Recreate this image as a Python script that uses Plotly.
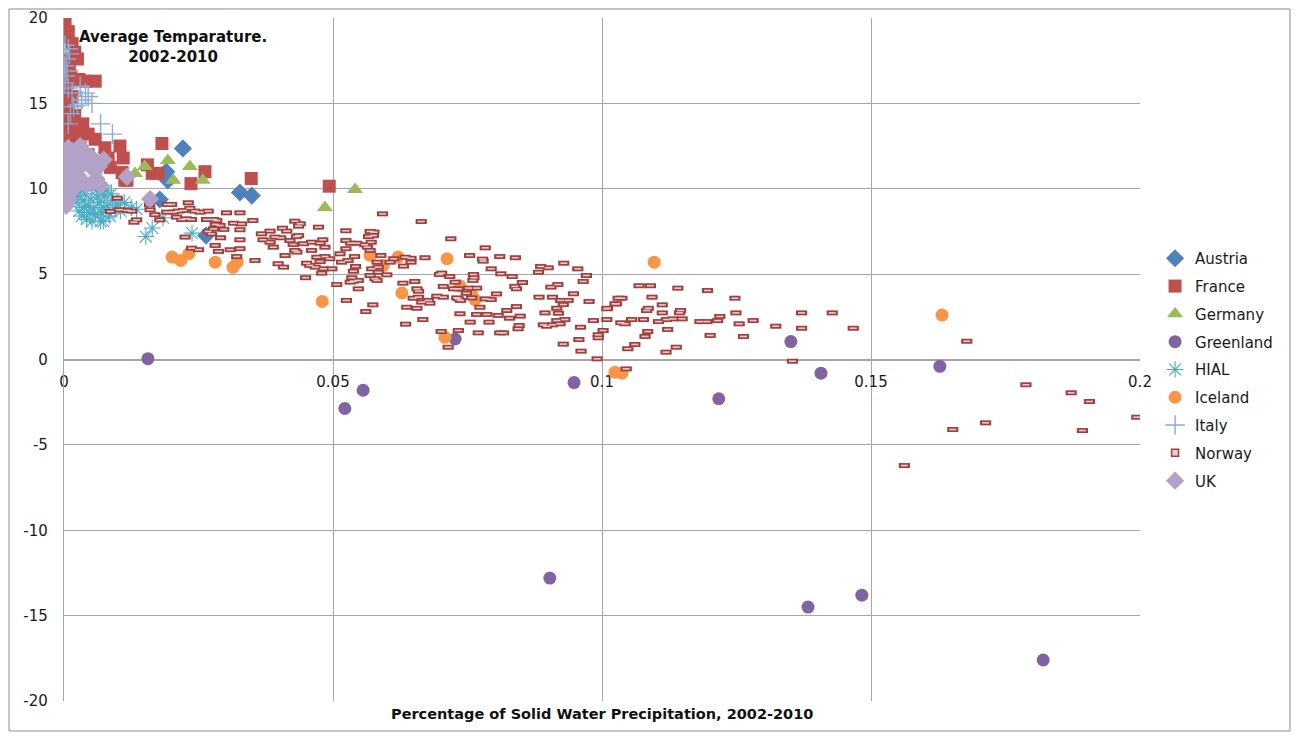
import plotly.graph_objects as go

# ---------------- data ----------------
austria_x = [0.0221, 0.0193, 0.0178, 0.0327, 0.0349, 0.0264, 0.0190]
austria_y = [12.36, 10.49, 9.37, 9.78, 9.60, 7.26, 11.0]

france_x = [0.0002, 0.0004, 0.0015, 0.0008, 0.0020, 0.0002, 0.0010, 0.0025, 0.0003, 0.0013,
            0.0028, 0.0006, 0.0040, 0.0058, 0.0002, 0.0015, 0.0003, 0.0008, 0.0020, 0.0004,
            0.0012, 0.0035, 0.0003, 0.0022, 0.0045, 0.0005, 0.0015, 0.0058, 0.0030, 0.0076,
            0.0104, 0.0003, 0.0018, 0.0045, 0.0082, 0.0110, 0.0006, 0.0028, 0.0058, 0.0086,
            0.0002, 0.0020, 0.0108, 0.0117, 0.0164, 0.0175, 0.0182, 0.0155, 0.0113, 0.0236,
            0.0262, 0.0348, 0.0493, 0.0004, 0.0001, 0.0005, 0.0010, 0.0030]
france_y = [19.9, 18.9, 18.5, 19.2, 18.0, 17.6, 17.2, 17.6, 16.9, 16.6,
            16.4, 16.2, 16.3, 16.3, 15.7, 15.4, 15.0, 14.6, 14.3, 14.0,
            13.6, 13.8, 13.3, 13.1, 13.2, 12.8, 12.6, 12.9, 12.4, 12.4,
            12.5, 12.1, 11.9, 12.0, 11.8, 11.8, 11.5, 11.4, 11.25, 11.25,
            11.1, 11.0, 10.95, 10.5, 10.9, 10.9, 12.65, 11.4, 10.5, 10.3,
            11.0, 10.6, 10.15, 14.5, 15.3, 13.7, 12.3, 11.7]

germany_x = [0.0132, 0.0150, 0.0193, 0.0203, 0.0234, 0.0258, 0.0485, 0.0541]
germany_y = [10.9, 11.3, 11.65, 10.5, 11.3, 10.5, 8.9, 9.96]

greenland_x = [0.0156, 0.0522, 0.0556, 0.0727, 0.0948, 0.0903, 0.1217, 0.1351, 0.1407,
               0.1383, 0.1483, 0.1628, 0.1820]
greenland_y = [0.05, -2.87, -1.8, 1.2, -1.35, -12.8, -2.3, 1.05, -0.8,
               -14.5, -13.8, -0.4, -17.6]

hial_x = [0.0012, 0.0018, 0.0025, 0.0030, 0.0035, 0.0040, 0.0045, 0.0050, 0.0055, 0.0060,
          0.0065, 0.0070, 0.0075, 0.0080, 0.0085, 0.0090, 0.0095, 0.0100, 0.0022, 0.0028,
          0.0033, 0.0038, 0.0042, 0.0048, 0.0052, 0.0058, 0.0062, 0.0068, 0.0073, 0.0078,
          0.0083, 0.0088, 0.0015, 0.0008, 0.0105, 0.0112, 0.0125, 0.0135, 0.0073, 0.0152,
          0.0164, 0.0184, 0.0238, 0.0042, 0.0065]
hial_y = [10.2, 9.8, 9.6, 10.0, 9.3, 9.7, 9.0, 9.4, 8.8, 9.9,
          9.2, 8.6, 9.6, 9.0, 8.4, 9.3, 8.8, 9.1, 9.2, 8.7,
          8.4, 8.9, 8.2, 8.6, 8.1, 8.5, 9.5, 8.1, 8.9, 9.9,
          8.6, 9.7, 9.4, 9.9, 8.7, 9.2, 8.9, 8.8, 8.1, 7.2,
          7.7, 8.3, 7.4, 10.3, 10.2]

iceland_x = [0.0201, 0.0217, 0.0232, 0.0281, 0.0314, 0.0322, 0.0480, 0.0569, 0.0593, 0.0621,
             0.0628, 0.0712, 0.0708, 0.0736, 0.0758, 0.0764, 0.1097, 0.1024, 0.1037, 0.1632]
iceland_y = [6.0, 5.8, 6.2, 5.7, 5.4, 5.7, 3.4, 6.1, 5.5, 6.0,
             3.9, 5.9, 1.3, 4.3, 3.8, 3.5, 5.7, -0.75, -0.8, 2.6]

italy_x = [0.0002, 0.0008, 0.0004, 0.0001, 0.0006, 0.0002, 0.0008, 0.0003, 0.0030, 0.0045,
           0.0033, 0.0052, 0.0018, 0.0012, 0.0008, 0.0068, 0.0090, 0.0015, 0.0040, 0.0025,
           0.0010]
italy_y = [18.4, 18.2, 17.6, 17.2, 16.9, 16.2, 15.9, 16.6, 16.0, 15.4,
           15.2, 15.0, 14.8, 14.4, 13.8, 13.8, 13.2, 15.6, 15.6, 14.9,
           17.9]

norway_x = [0.0099, 0.0086, 0.0103, 0.0117, 0.0126, 0.0135, 0.0130, 0.0159, 0.0160, 0.0169,
            0.0178, 0.0192, 0.0200, 0.0191, 0.0203, 0.0212, 0.0222, 0.0231, 0.0234, 0.0243,
            0.0253, 0.0268, 0.0209, 0.0219, 0.0227, 0.0237, 0.0265, 0.0278, 0.0284, 0.0302,
            0.0327, 0.0281, 0.0290, 0.0315, 0.0330, 0.0351, 0.0278, 0.0297, 0.0327, 0.0268,
            0.0274, 0.0291, 0.0327, 0.0225, 0.0237, 0.0250, 0.0281, 0.0287, 0.0309, 0.0327,
            0.0321, 0.0355, 0.0367, 0.0370, 0.0383, 0.0392, 0.0383, 0.0389, 0.0406, 0.0414,
            0.0403, 0.0429, 0.0436, 0.0420, 0.0426, 0.0429, 0.0432, 0.0411, 0.0398, 0.0408,
            0.0592, 0.0664, 0.0439, 0.0473, 0.0436, 0.0445, 0.0460, 0.0481, 0.0476, 0.0433,
            0.0460, 0.0485, 0.0485, 0.0494, 0.0470, 0.0476, 0.0451, 0.0457, 0.0467, 0.0482,
            0.0498, 0.0479, 0.0449, 0.0524, 0.0524, 0.0533, 0.0544, 0.0524, 0.0513, 0.0528,
            0.0516, 0.0540, 0.0542, 0.0538, 0.0569, 0.0576, 0.0575, 0.0566, 0.0571, 0.0559,
            0.0564, 0.0569, 0.0589, 0.0582, 0.0584, 0.0572, 0.0584, 0.0600, 0.0569, 0.0578,
            0.0582, 0.0535, 0.0538, 0.0547, 0.0532, 0.0547, 0.0507, 0.0525, 0.0561, 0.0574,
            0.0613, 0.0634, 0.0631, 0.0645, 0.0645, 0.0606, 0.0671, 0.0630, 0.0652, 0.0659,
            0.0656, 0.0659, 0.0649, 0.0637, 0.0656, 0.0665, 0.0680, 0.0677, 0.0667, 0.0635,
            0.0719, 0.0754, 0.0783, 0.0778, 0.0779, 0.0794, 0.0810, 0.0812, 0.0839, 0.0833,
            0.0852, 0.0838, 0.0841, 0.0804, 0.0794, 0.0783, 0.0773, 0.0758, 0.0748, 0.0752,
            0.0767, 0.0733, 0.0724, 0.0705, 0.0693, 0.0705, 0.0730, 0.0733, 0.0737, 0.0702,
            0.0698, 0.0717, 0.0727, 0.0761, 0.0762, 0.0760, 0.0736, 0.0755, 0.0767, 0.0786,
            0.0790, 0.0807, 0.0823, 0.0828, 0.0841, 0.0848, 0.0846, 0.0844, 0.0810, 0.0817,
            0.0770, 0.0733, 0.0701, 0.0714, 0.0882, 0.0886, 0.0900, 0.0929, 0.0955, 0.0965,
            0.0971, 0.0905, 0.0918, 0.0883, 0.0908, 0.0923, 0.0928, 0.0937, 0.0947, 0.0976,
            0.0894, 0.0916, 0.0919, 0.0916, 0.0931, 0.0891, 0.0897, 0.0908, 0.0922, 0.0960,
            0.0984, 0.1009, 0.1024, 0.1009, 0.1030, 0.1002, 0.0993, 0.0993, 0.0957, 0.0928,
            0.0961, 0.0991, 0.1069, 0.1090, 0.1141, 0.1196, 0.1037, 0.1093, 0.1247, 0.1027,
            0.1112, 0.1010, 0.1083, 0.1086, 0.1112, 0.1144, 0.1146, 0.1249, 0.1219, 0.1371,
            0.1428, 0.1035, 0.1043, 0.1055, 0.1077, 0.1105, 0.1120, 0.1132, 0.1149, 0.1182,
            0.1195, 0.1215, 0.1255, 0.1281, 0.1323, 0.1371, 0.1467, 0.1085, 0.1122, 0.1080,
            0.1201, 0.1263, 0.1061, 0.1048, 0.1138, 0.1119, 0.1354, 0.1045, 0.1678, 0.1788,
            0.1872, 0.1906, 0.1994, 0.1713, 0.1652, 0.1893, 0.1562]
norway_y = [9.45, 8.67, 8.77, 8.73, 8.69, 8.18, 8.04, 9.06, 8.77, 8.48,
            8.18, 9.08, 9.08, 8.63, 8.63, 8.69, 8.73, 9.18, 8.86, 8.69,
            8.63, 8.69, 8.34, 8.20, 8.24, 8.20, 8.20, 8.20, 8.14, 8.59,
            8.59, 7.91, 7.85, 7.98, 7.94, 8.14, 7.65, 7.62, 7.60, 7.50,
            7.36, 7.13, 7.01, 7.17, 6.52, 6.43, 6.68, 6.33, 6.43, 6.49,
            6.03, 5.80, 7.36, 7.01, 7.52, 7.17, 6.87, 6.58, 7.69, 7.52,
            7.13, 8.10, 7.81, 6.97, 6.74, 6.39, 7.20, 6.09, 5.61, 5.41,
            8.53, 8.08, 7.95, 7.75, 7.26, 6.78, 6.87, 7.01, 6.81, 6.29,
            6.39, 6.58, 6.03, 5.90, 5.99, 5.74, 5.64, 5.51, 5.41, 5.31,
            5.31, 5.06, 4.79, 7.54, 6.97, 6.81, 6.81, 6.49, 6.19, 5.80,
            5.70, 6.03, 5.45, 5.17, 7.50, 7.46, 7.26, 7.20, 6.87, 6.72,
            6.58, 6.39, 6.09, 5.70, 5.41, 5.31, 5.11, 4.96, 4.92, 4.73,
            4.63, 4.79, 4.59, 4.63, 4.53, 4.14, 4.39, 3.46, 2.81, 3.20,
            5.90, 5.99, 5.47, 5.93, 5.70, 5.70, 5.96, 4.47, 4.57, 4.00,
            4.14, 3.65, 3.59, 3.06, 3.00, 3.36, 3.30, 3.46, 2.34, 2.07,
            7.07, 6.09, 6.54, 5.88, 5.76, 5.31, 6.03, 5.02, 5.96, 4.86,
            4.51, 4.28, 4.14, 3.84, 3.51, 3.55, 3.06, 3.61, 3.88, 4.18,
            4.18, 4.14, 4.14, 4.28, 3.71, 3.65, 3.61, 3.55, 3.46, 5.06,
            4.98, 4.86, 4.53, 4.98, 4.79, 4.63, 2.68, 2.19, 2.64, 2.64,
            2.19, 2.58, 2.87, 2.42, 3.10, 2.54, 1.99, 1.80, 1.56, 1.56,
            1.56, 1.70, 1.64, 0.72, 5.11, 5.45, 5.37, 5.64, 5.31, 4.57,
            4.92, 4.24, 4.39, 3.65, 3.65, 3.46, 3.22, 3.46, 3.85, 3.40,
            2.73, 3.00, 2.71, 2.28, 2.34, 2.03, 1.95, 2.03, 2.09, 1.89,
            2.28, 2.97, 3.26, 2.34, 3.59, 1.70, 1.45, 1.27, 1.17, 0.90,
            0.49, 0.04, 4.32, 4.32, 4.18, 4.04, 3.59, 3.65, 3.59, 3.26,
            3.20, 3.00, 2.87, 3.00, 2.73, 2.73, 2.87, 2.73, 2.52, 2.73,
            2.73, 2.15, 2.09, 2.34, 2.34, 2.22, 2.34, 2.38, 2.38, 2.22,
            2.22, 2.28, 2.09, 2.28, 1.95, 1.83, 1.83, 1.64, 1.76, 1.35,
            1.41, 1.35, 0.88, 0.63, 0.72, 0.43, -0.10, -0.55, 1.07, -1.48,
            -1.95, -2.46, -3.38, -3.71, -4.10, -4.16, -6.21]

uk_x = [0.0004, 0.0002, 0.0008, 0.0003, 0.0012, 0.0005, 0.0015, 0.0002, 0.0010, 0.0020,
        0.0005, 0.0015, 0.0025, 0.0030, 0.0035, 0.0040, 0.0045, 0.0050, 0.0055, 0.0060,
        0.0065, 0.0074, 0.0117, 0.0160, 0.0030, 0.0042, 0.0055, 0.0020, 0.0008, 0.0030,
        0.0025, 0.0068, 0.0010]
uk_y = [9.0, 9.5, 9.3, 10.0, 10.3, 10.6, 10.9, 11.0, 11.4, 11.6,
        11.9, 12.2, 12.0, 11.3, 11.8, 12.1, 11.5, 11.9, 11.1, 10.6,
        11.3, 11.7, 10.7, 9.4, 10.5, 10.2, 10.4, 10.1, 12.4, 12.5,
        10.8, 10.2, 9.7]

x_ticks = [0, 0.05, 0.1, 0.15, 0.2]
x_tick_text = ["0", "0.05", "0.1", "0.15", "0.2"]
y_ticks = [-20, -15, -10, -5, 0, 5, 10, 15, 20]
y_tick_text = ["-20", "-15", "-10", "-5", "0", "5", "10", "15", "20"]

FONT = "'DejaVu Sans', Verdana, sans-serif"
NORWAY_EDGE = "#A0403E"
NORWAY_FILL = "#E6CCCC"

fig = go.Figure()

fig.add_trace(go.Scatter(x=austria_x, y=austria_y, mode="markers", name="Austria",
                         legendgroup="a",
                         marker=dict(symbol="diamond", size=14, color="#4F81BD")))
fig.add_trace(go.Scatter(x=france_x, y=france_y, mode="markers", name="France",
                         legendgroup="b",
                         marker=dict(symbol="square", size=13, color="#C0504D")))
fig.add_trace(go.Scatter(x=germany_x, y=germany_y, mode="markers", name="Germany",
                         legendgroup="c",
                         marker=dict(symbol="triangle-up", size=14, color="#9BBB59")))
fig.add_trace(go.Scatter(x=greenland_x, y=greenland_y, mode="markers", name="Greenland",
                         legendgroup="d",
                         marker=dict(symbol="circle", size=13, color="#8064A2")))
fig.add_trace(go.Scatter(x=hial_x, y=hial_y, mode="markers", name="HIAL",
                         legendgroup="e",
                         marker=dict(symbol="asterisk-open", size=14, color="#4BACC6",
                                     line=dict(color="#4BACC6", width=1.1))))
fig.add_trace(go.Scatter(x=iceland_x, y=iceland_y, mode="markers", name="Iceland",
                         legendgroup="f",
                         marker=dict(symbol="circle", size=13, color="#F79646")))
fig.add_trace(go.Scatter(x=italy_x, y=italy_y, mode="markers", name="Italy",
                         legendgroup="g",
                         marker=dict(symbol="cross-thin-open", size=14, color="#8EA8D6",
                                     line=dict(color="#8EA8D6", width=1.4))))
# Norway: legend-only entry plus two stacked marker layers forming small rectangles
fig.add_trace(go.Scatter(x=[None], y=[None], mode="markers", name="Norway",
                         legendgroup="h",
                         marker=dict(symbol="square", size=7, color=NORWAY_FILL,
                                     line=dict(color=NORWAY_EDGE, width=1.5))))
fig.add_trace(go.Scatter(x=norway_x, y=norway_y, mode="markers", name="Norway",
                         legendgroup="h", showlegend=False,
                         marker=dict(symbol="line-ew-open", size=8, color=NORWAY_EDGE,
                                     line=dict(color=NORWAY_EDGE, width=5))))
fig.add_trace(go.Scatter(x=norway_x, y=norway_y, mode="markers", name="Norway",
                         legendgroup="h", showlegend=False,
                         marker=dict(symbol="line-ew-open", size=5, color=NORWAY_FILL,
                                     line=dict(color=NORWAY_FILL, width=1.6))))
fig.add_trace(go.Scatter(x=uk_x, y=uk_y, mode="markers", name="UK",
                         legendgroup="i",
                         marker=dict(symbol="diamond", size=14, color="#B3A2C7")))

fig.update_layout(
    width=1283, height=724,
    margin=dict(l=56, r=151, t=10, b=31),
    paper_bgcolor="white", plot_bgcolor="white",
    font=dict(family=FONT, size=15, color="#1a1a1a"),
    showlegend=True,
    legend=dict(x=1.014, y=0.672, xanchor="left", yanchor="top",
                font=dict(size=15, color="#1a1a1a"),
                tracegroupgap=5.3,
                traceorder="grouped", bgcolor="rgba(0,0,0,0)"),
    xaxis=dict(range=[0, 0.2], tickvals=x_ticks, ticktext=x_tick_text,
               showgrid=True, gridcolor="#A6A6A6", gridwidth=1.3,
               zeroline=False, showline=True, linecolor="#A6A6A6", linewidth=1.3,
               anchor="free", position=0.5, ticks="", ticklen=0, automargin=False,
               ticklabelstandoff=8,
               tickfont=dict(size=15), layer="below traces"),
    yaxis=dict(range=[-20, 20], tickvals=y_ticks, ticktext=y_tick_text,
               showgrid=True, gridcolor="#A6A6A6", gridwidth=1.3,
               zeroline=False, showline=True, linecolor="#A6A6A6", linewidth=1.3,
               ticks="", tickfont=dict(size=15), ticklabelstandoff=12, automargin=False),
    annotations=[
        dict(text="<b>Average Temparature.<br>2002-2010</b>", xref="paper", yref="paper",
             x=0.1013, y=0.957, xanchor="center", yanchor="middle", showarrow=False,
             font=dict(size=15, color="#111111", family=FONT)),
        dict(text="<b>Percentage of Solid Water Precipitation, 2002-2010</b>",
             xref="paper", yref="paper", x=0.4996, y=-0.019, xanchor="center",
             yanchor="middle", showarrow=False,
             font=dict(size=14.5, color="#111111", family=FONT)),
    ],
    shapes=[dict(type="rect", xref="paper", yref="paper",
                 x0=-0.0511, x1=1.1394, y0=-0.0439, y1=1.0132,
                 line=dict(color="#8C8C8C", width=1), fillcolor="rgba(0,0,0,0)")],
)

fig.write_html("out.html")
